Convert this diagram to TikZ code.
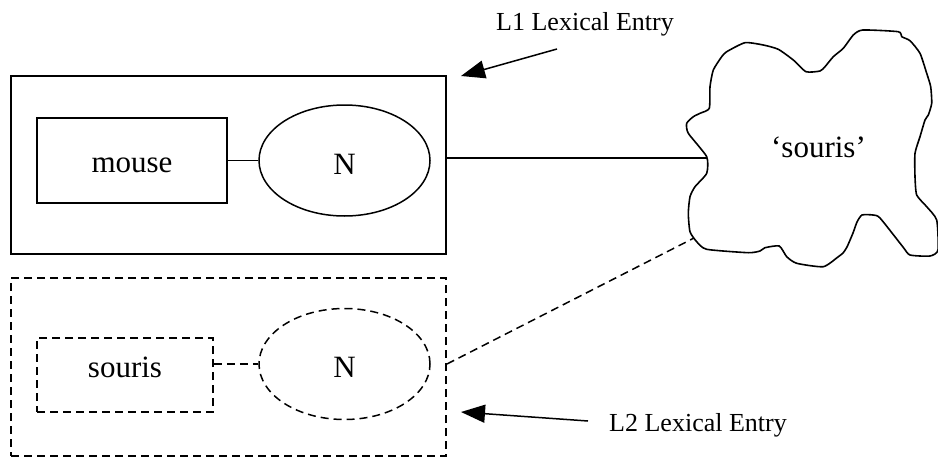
\documentclass[tikz,border=0pt]{standalone}
\usepackage{fontspec}
\setmainfont{Liberation Serif}
\usetikzlibrary{arrows.meta,shapes.geometric}
\begin{document}
\begin{tikzpicture}[x=1pt,y=-1pt,
  outerbox/.style={draw,line width=1.9pt,minimum width=435pt,minimum height=178pt,inner sep=0pt},
  wordbox/.style={draw,line width=1.5pt,inner sep=0pt,font=\fontsize{31}{31}\selectfont},
  catell/.style={draw,ellipse,line width=1.5pt,inner sep=0pt,minimum width=171pt,minimum height=111pt,font=\fontsize{31}{31}\selectfont,text height=27pt,text depth=0pt},
  dashedline/.style={dash pattern=on 8pt off 5pt},
  lbl/.style={anchor=base,inner sep=0pt,font=\fontsize{26}{26}\selectfont},
  pointer/.style={line width=1.5pt,-{Triangle[length=24pt,width=18pt]}},
  link/.style={line width=1.5pt}]
\useasboundingbox (0,0) rectangle (938,461);
% L1 entry
\node[outerbox] (box1) at (228.5,165) {};
\node[wordbox,minimum width=190pt,minimum height=85pt,text height=23pt,text depth=0pt] (mouse) at (132,160.5) {mouse};
\node[catell] (n1) at (344.5,160.5) {N};
\draw[link] (mouse.east) -- (n1.west);
% L2 entry
\node[outerbox,dashedline] (box2) at (228.5,367) {};
\node[wordbox,dashedline,minimum width=176pt,minimum height=74pt,text height=14pt,text depth=10pt] (souris) at (125,375) {souris};
\node[catell,dashedline] (n2) at (344.5,364) {N};
\draw[link,dashedline] (souris.east |- n2.west) -- (n2.west);
% cloud
\draw[line width=1.6pt,fill=white] plot[smooth cycle,tension=0.35] coordinates {
 (706.7,156.7) (688.3,133.3) (686.7,123.3) (693.3,116.7) (700,113.3) (709.3,108.3)
 (710,86.7) (713.3,70) (721.7,56.7) (726.7,51.7) (745,42.7) (763.3,45) (778.3,49.3)
 (793.3,60) (806,71.7) (820,71) (825,66.7) (833.3,56.7) (843.3,48.3) (853.3,35)
 (862.7,30) (898.3,31.7) (901.7,36.7) (910,40.7) (920,53.3) (926.7,73.3) (930.7,86.7)
 (931.7,103.3) (928.3,115) (925,120) (920,136.7) (915,153.3) (915,176.7) (916.7,195)
 (926.7,206.7) (936.7,220) (938,250) (930,256) (910,255) (903,247) (880,218) (873,215)
 (862,215) (857,222) (853,233) (847,247) (843,253) (838.3,256.7) (823.3,266.7)
 (796.7,263.3) (786.7,256.7) (779.3,246) (765,247.7) (760,251) (748.3,252.7)
 (706.7,249.3) (696.7,241.7) (690,231.7) (688.3,213.3) (690,196.7) (695,186.7)
 (706.7,173.3)};
\node[anchor=base,inner sep=0pt,font=\fontsize{31}{31}\selectfont] (meaning) at (818.5,157) {‘souris’};
\coordinate (c1) at (707,158);
\coordinate (c2) at (694,238);
\draw[link] (box1.east |- c1) -- (c1);
\draw[link,dashedline] (box2.east |- n2.east) -- (c2);
% labels and pointers
\node[lbl] (l1) at (585,30) {L1 Lexical Entry};
\node[lbl] (l2) at (698,431) {L2 Lexical Entry};
\coordinate (a1s) at (557,49);
\coordinate (a1e) at (461,76);
\coordinate (a2s) at (588,421);
\coordinate (a2e) at (461,412);
\draw[pointer] (a1s) -- (a1e);
\draw[pointer] (a2s) -- (a2e);
\end{tikzpicture}
\end{document}
